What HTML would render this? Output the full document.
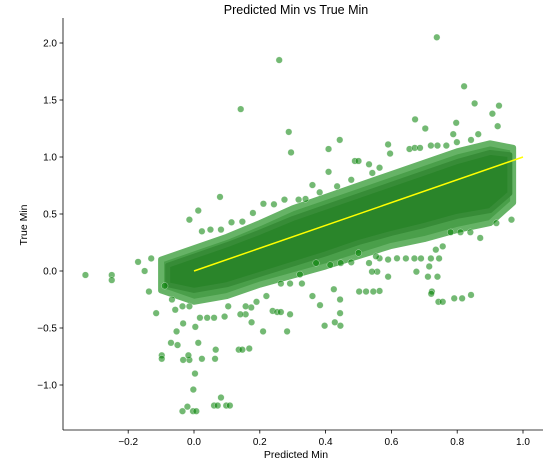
<!DOCTYPE html>
<html><head><meta charset="utf-8"><style>
body{margin:0;background:#fff;}
svg text{font-family:"Liberation Sans",sans-serif;fill:#000;}
</style></head><body>
<svg id="chart" width="550" height="466">
<text x="296" y="14" font-size="12.5" text-anchor="middle">Predicted Min vs True Min</text>
<text x="296" y="458" font-size="10.5" text-anchor="middle">Predicted Min</text>
<text transform="translate(27,225) rotate(-90)" font-size="10.5" text-anchor="middle">True Min</text>
<g id="plot"></g>
</svg>
<script>
const xTicks=[-0.2,0,0.2,0.4,0.6,0.8,1.0];
const xTickLabels=["\u22120.2","0.0","0.2","0.4","0.6","0.8","1.0"];
const yTicks=[-1.0,-0.5,0,0.5,1.0,1.5,2.0];
const yTickLabels=["\u22121.0","\u22120.5","0.0","0.5","1.0","1.5","2.0"];
// dense cloud outline (data coords)
const bandUpperX=[-0.1,0,0.1,0.2,0.3,0.4,0.5,0.6,0.7,0.8,0.9,0.97];
const bandUpperY=[0.1,0.2,0.3,0.42,0.55,0.65,0.75,0.85,0.95,1.05,1.12,1.08];
const bandLowerX=[0.97,0.9,0.8,0.7,0.6,0.5,0.4,0.3,0.2,0.1,0,-0.1];
const bandLowerY=[0.6,0.42,0.36,0.28,0.22,0.13,0.04,-0.04,-0.12,-0.22,-0.27,-0.17];
const coreUpperX=[-0.08,0,0.1,0.2,0.3,0.4,0.5,0.6,0.7,0.8,0.9,0.96];
const coreUpperY=[0.05,0.13,0.23,0.34,0.46,0.56,0.66,0.76,0.86,0.96,1.04,1.02];
const coreLowerX=[0.96,0.9,0.8,0.7,0.6,0.5,0.4,0.3,0.2,0.1,0,-0.08];
const coreLowerY=[0.68,0.53,0.48,0.4,0.33,0.25,0.15,0.06,-0.03,-0.12,-0.17,-0.12];
// sparse points
const ptX=[-0.33,-0.25,-0.25,-0.17,-0.13,-0.15,-0.137,-0.115,-0.098,-0.098,-0.07,-0.05,-0.053,-0.033,-0.033,-0.014,-0.017,0.004,0.013,0.003,-0.002,-0.035,-0.02,-0.003,0.007,0.061,0.072,0.082,0.098,0.109,0.066,0.064,0.024,0.136,0.147,0.168,0.175,0.21,0.283,0.292,-0.014,0.013,0.079,0.142,0.259,0.288,0.295,0.409,0.409,0.443,0.738,0.821,0.853,0.927,0.907,0.672,0.703,0.59,0.797,0.788,0.864,0.923,0.965,0.919,0.87,0.791,0.815,0.842,0.743,0.756,0.723,0.721,0.711,0.74,0.715,0.676,0.59,0.557,0.541,0.502,0.523,0.545,0.564,0.425,0.444,0.444,0.428,0.445,0.397,0.383,0.36,0.328,0.322,0.292,0.264,0.239,0.22,0.19,0.174,0.157,0.141,0.093,0.061,0.04,0.018,-0.014,-0.035,0.253,0.264,0.157,0.104,-0.089,-0.067,-0.057,0.644,0.67,0.69,0.72,0.745,0.617,0.59,0.564,0.735,0.756,0.78,0.81,0.84,0.478,0.5,0.532,0.553,0.414,0.446,0.371,0.489,0.5,0.532,0.564,0.596,0.655,0.671,0.687,0.72,0.74,0.767,0.799,0.842,0.339,0.318,0.275,0.243,0.211,0.179,0.147,0.114,0.082,0.05,0.024,0.478,0.435,0.36,0.382,0.542];
const ptY=[-0.035,-0.035,-0.08,0.08,0.11,0,-0.18,-0.37,-0.74,-0.77,-0.63,-0.65,-0.53,-0.46,-0.78,-0.78,-0.74,-0.49,-0.63,-0.9,-1.04,-1.23,-1.19,-1.23,-1.23,-1.18,-1.18,-1.11,-1.18,-1.18,-0.69,-0.77,-0.77,-0.69,-0.69,-0.68,-0.45,-0.53,-0.53,-0.38,0.45,0.53,0.65,1.42,1.85,1.22,1.04,1.07,0.87,1.15,2.05,1.62,1.47,1.45,1.38,1.33,1.25,1.11,1.3,1.2,1.2,1.27,0.45,0.42,0.29,-0.24,-0.24,-0.21,-0.27,-0.27,-0.18,-0.2,-0.05,-0.05,0.04,-0.006,-0.05,-0.006,-0.006,-0.18,-0.18,-0.18,-0.175,-0.16,-0.25,-0.37,-0.45,-0.48,-0.48,-0.3,-0.22,-0.11,-0.03,-0.11,-0.11,-0.35,-0.22,-0.27,-0.32,-0.38,-0.38,-0.4,-0.41,-0.41,-0.41,-0.31,-0.31,-0.36,-0.36,-0.31,-0.31,-0.13,-0.25,-0.34,0.11,0.11,0.11,0.11,0.11,0.111,0.1,0.111,0.187,0.216,0.34,0.34,0.34,0.076,0.158,0.07,0.129,0.053,0.07,0.07,0.965,0.965,0.936,0.906,1.03,1.07,1.08,1.08,1.1,1.1,1.1,1.13,1.15,0.632,0.626,0.626,0.585,0.59,0.509,0.433,0.427,0.363,0.363,0.348,0.8,0.743,0.754,0.69,0.86];
const lineX=[0,1];
const lineY=[0,1];

const X0=63,X1=543,Y0=18,Y1=430;
function sx(v){return 194+v*329;}
function sy(v){return 271-v*114;}
const NS="http://www.w3.org/2000/svg";
const plot=document.getElementById('plot');
function mk(t,a){const e=document.createElementNS(NS,t);for(const k in a)e.setAttribute(k,a[k]);plot.appendChild(e);return e;}

function poly(ux,uy,lx,ly){let p=[];for(let i=0;i<ux.length;i++)p.push(sx(ux[i])+','+sy(uy[i]));for(let i=0;i<lx.length;i++)p.push(sx(lx[i])+','+sy(ly[i]));return p.join(' ');}
const band=mk('polygon',{points:poly(bandUpperX,bandUpperY,bandLowerX,bandLowerY),fill:'#4a9f4a','stroke':'#66b366','stroke-width':6,'stroke-linejoin':'round'});


const core=mk('polygon',{points:poly(coreUpperX,coreUpperY,coreLowerX,coreLowerY),fill:'#2a852a','stroke':'#378c37','stroke-width':5,'stroke-linejoin':'round'});



for(let i=0;i<ptX.length;i++){
  const c=mk('circle',{cx:sx(ptX[i]),cy:sy(ptY[i]),r:3.3,fill:'#008000','fill-opacity':0.55,stroke:'#fff','stroke-width':0.5,'stroke-opacity':0.6});
  
  
}
const ln=mk('line',{x1:sx(lineX[0]),y1:sy(lineY[0]),x2:sx(lineX[1]),y2:sy(lineY[1]),stroke:'#ffff00','stroke-width':1.5});



const ya=mk('line',{x1:X0,y1:Y0,x2:X0,y2:Y1,stroke:'#000','stroke-width':0.8});


const xa=mk('line',{x1:X0,y1:Y1,x2:X1,y2:Y1,stroke:'#000','stroke-width':0.8});


for(let i=0;i<xTicks.length;i++){
  const x=sx(xTicks[i]);
  const t=mk('line',{x1:x,y1:Y1,x2:x,y2:Y1+3.5,stroke:'#000','stroke-width':0.8});
  
  
  const l=mk('text',{x:x,y:Y1+15,'font-size':10,'text-anchor':'middle'});
  l.textContent=xTickLabels[i];
  
  
}
for(let i=0;i<yTicks.length;i++){
  const y=sy(yTicks[i]);
  const t=mk('line',{x1:X0-3.5,y1:y,x2:X0,y2:y,stroke:'#000','stroke-width':0.8});
  
  
  const l=mk('text',{x:X0-6,y:y+3.5,'font-size':10,'text-anchor':'end'});
  l.textContent=yTickLabels[i];
  
  
}
</script>
</body></html>
